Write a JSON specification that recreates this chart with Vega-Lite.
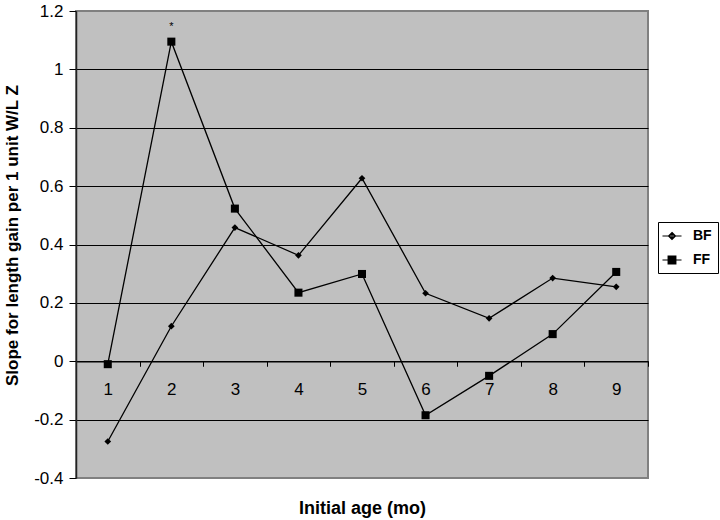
{
  "$schema": "https://vega.github.io/schema/vega-lite/v6.json",
  "autosize": {"type": "none"},
  "padding": {"left": 76, "top": 11, "right": 72, "bottom": 42},
  "width": 572,
  "height": 467,
  "background": "white",
  "config": {
    "font": "Liberation Sans",
    "view": {"fill": "#c0c0c0", "stroke": "#808080", "strokeWidth": 2}
  },
  "data": {
    "values": [
      {"age": "1", "group": "BF", "value": -0.275, "note": ""},
      {"age": "2", "group": "BF", "value": 0.120, "note": ""},
      {"age": "3", "group": "BF", "value": 0.458, "note": ""},
      {"age": "4", "group": "BF", "value": 0.363, "note": ""},
      {"age": "5", "group": "BF", "value": 0.627, "note": ""},
      {"age": "6", "group": "BF", "value": 0.233, "note": ""},
      {"age": "7", "group": "BF", "value": 0.147, "note": ""},
      {"age": "8", "group": "BF", "value": 0.285, "note": ""},
      {"age": "9", "group": "BF", "value": 0.255, "note": ""},
      {"age": "1", "group": "FF", "value": -0.010, "note": ""},
      {"age": "2", "group": "FF", "value": 1.095, "note": "*"},
      {"age": "3", "group": "FF", "value": 0.523, "note": ""},
      {"age": "4", "group": "FF", "value": 0.235, "note": ""},
      {"age": "5", "group": "FF", "value": 0.299, "note": ""},
      {"age": "6", "group": "FF", "value": -0.185, "note": ""},
      {"age": "7", "group": "FF", "value": -0.050, "note": ""},
      {"age": "8", "group": "FF", "value": 0.093, "note": ""},
      {"age": "9", "group": "FF", "value": 0.306, "note": ""}
    ]
  },
  "encoding": {
    "x": {
      "field": "age", "type": "ordinal",
      "scale": {"type": "band", "paddingInner": 0, "paddingOuter": 0},
      "axis": {
        "title": "Initial age (mo)", "labelAngle": 0,
        "offset": -116.75, "tickBand": "extent",
        "domainColor": "black", "domainWidth": 1.3,
        "tickColor": "black", "tickSize": 5, "tickWidth": 1,
        "labelFontSize": 17, "labelColor": "black", "labelPadding": 15,
        "titleFontSize": 18, "titleFontWeight": "bold", "titleColor": "black",
        "titleX": 286, "titleY": 152, "titleBaseline": "alphabetic", "titleAnchor": null
      }
    },
    "y": {
      "field": "value", "type": "quantitative",
      "scale": {"domain": [-0.4, 1.2], "nice": false, "zero": false},
      "axis": {
        "title": "Slope for length gain per 1 unit W/L Z",
        "values": [-0.4, -0.2, 0, 0.2, 0.4, 0.6, 0.8, 1, 1.2],
        "labelExpr": "'' + round(datum.value * 10) / 10",
        "grid": true, "gridColor": "black", "gridWidth": 1.2,
        "gridOpacity": {"condition": {"test": "datum.value > 1.1 || datum.value < -0.35", "value": 0}, "value": 1},
        "domainColor": "#222", "domainWidth": 1.5,
        "tickColor": "black", "tickSize": 7, "tickWidth": 1,
        "labelFontSize": 17, "labelColor": "black", "labelPadding": 6,
        "titleFontSize": 17, "titleFontWeight": "bold", "titleColor": "black",
        "titleX": -64, "titleY": 224, "titleBaseline": "middle", "titleAnchor": null
      }
    }
  },
  "layer": [
    {
      "mark": {"type": "line", "color": "black", "strokeWidth": 1.3},
      "encoding": {"detail": {"field": "group"}}
    },
    {
      "mark": {"type": "point", "filled": true, "color": "black", "opacity": 1, "size": 45},
      "encoding": {
        "shape": {
          "field": "group", "type": "nominal",
          "scale": {"domain": ["BF", "FF"], "range": ["diamond", "M-1.2,-1.2H1.2V1.2H-1.2Z"]},
          "legend": null
        }
      }
    },
    {
      "mark": {"type": "point", "filled": false, "color": "black", "strokeWidth": 1.2, "opacity": 0, "size": 1},
      "encoding": {
        "shape": {
          "field": "group", "type": "nominal",
          "scale": {"domain": ["BF", "FF"], "range": [
            "M-1.36,0L1.36,0M0,-0.5L0.5,0L0,0.5L-0.5,0ZM-0.15,-0.35L0.15,-0.35M-0.3,-0.2L0.3,-0.2M-0.3,0.2L0.3,0.2M-0.15,0.35L0.15,0.35",
            "M-1.36,0L1.36,0M-0.55,-0.55H0.55V0.55H-0.55ZM-0.55,-0.4H0.55M-0.55,-0.26H0.55M-0.55,-0.13H0.55M-0.55,0.13H0.55M-0.55,0.26H0.55M-0.55,0.4H0.55"
          ]},
          "legend": {
            "title": null, "orient": "none", "legendX": 582, "legendY": 211,
            "padding": 6, "rowPadding": 9, "symbolSize": 196,
            "symbolOpacity": 1, "symbolFillColor": "black", "symbolStrokeColor": "black", "symbolStrokeWidth": 1.2,
            "strokeColor": "black", "fillColor": "white",
            "labelFontSize": 14, "labelFontWeight": "bold", "labelColor": "black", "labelOffset": 13
          }
        }
      }
    },
    {
      "transform": [{"filter": "datum.note !== ''"}],
      "mark": {"type": "text", "fontSize": 11, "baseline": "alphabetic", "dy": -12, "color": "black"},
      "encoding": {"text": {"field": "note"}}
    }
  ],
  "resolve": {"scale": {"shape": "independent"}}
}
